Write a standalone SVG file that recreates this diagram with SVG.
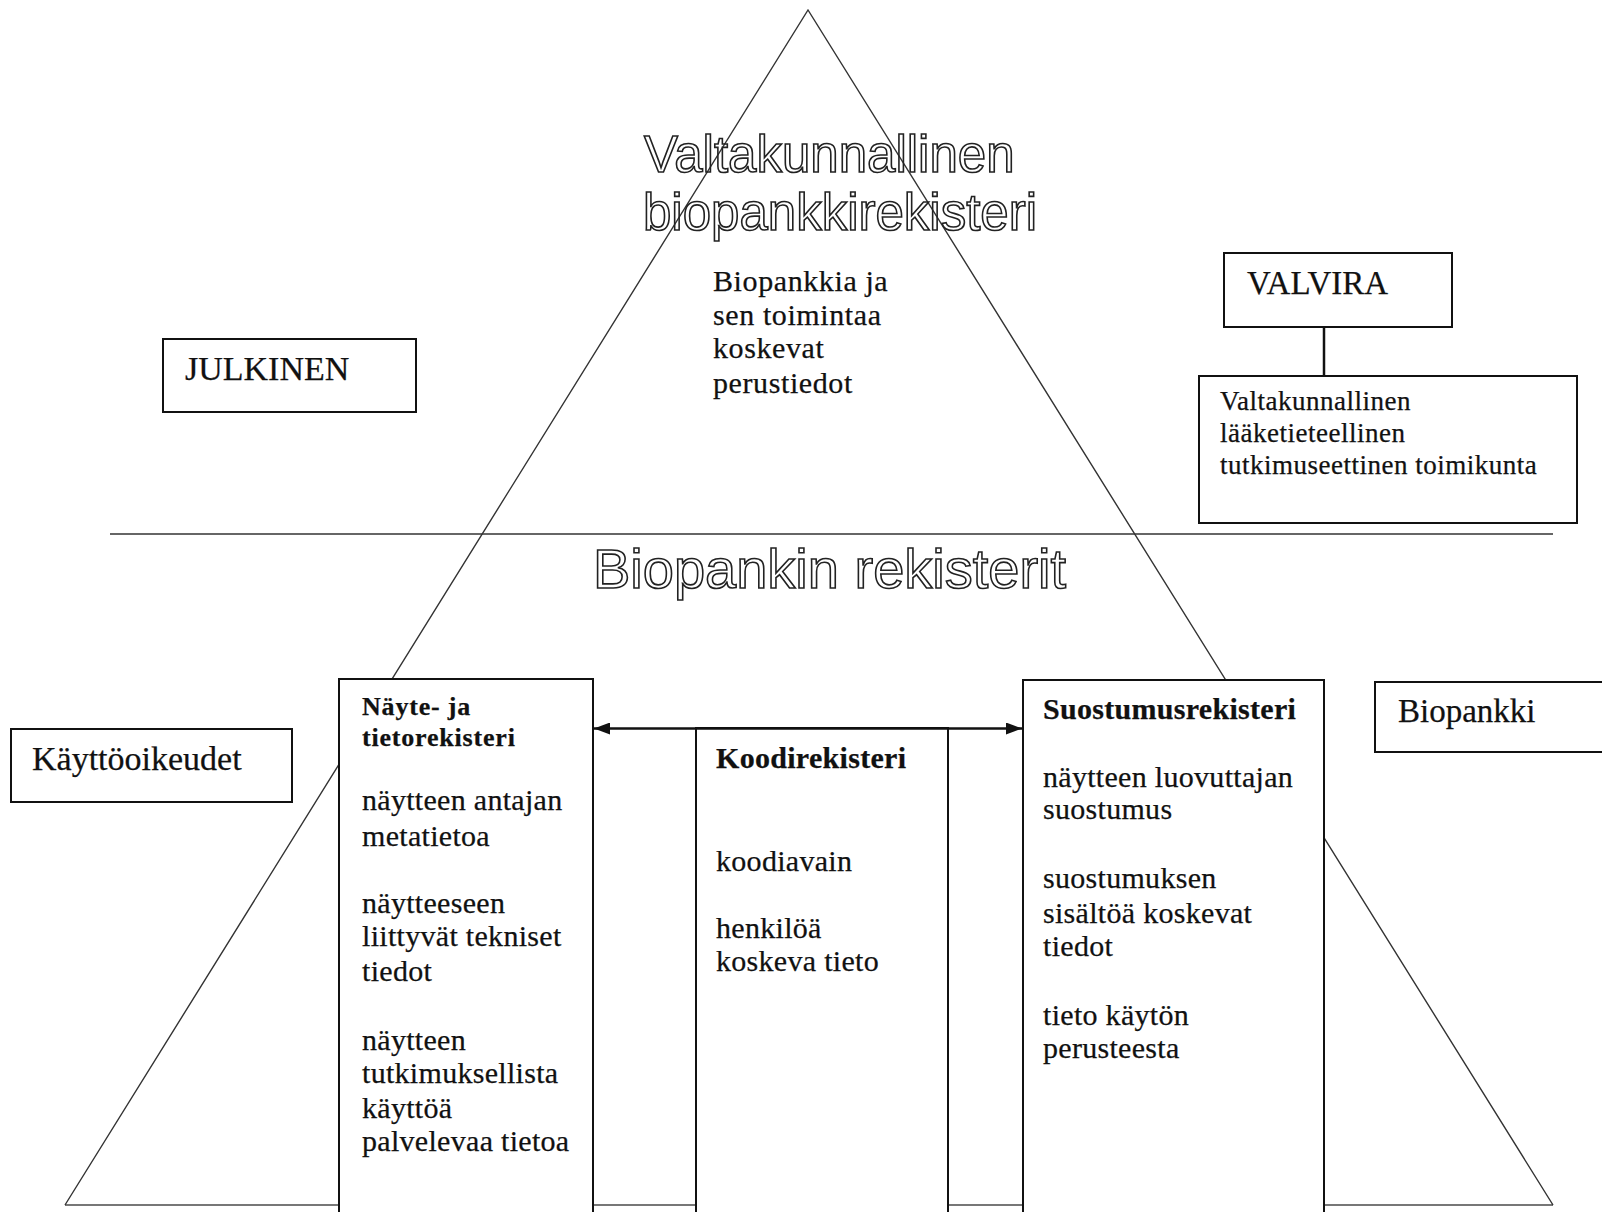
<svg xmlns="http://www.w3.org/2000/svg" width="1602" height="1212" viewBox="0 0 1602 1212">
<style>
.bg{fill:#fff}
.tri{fill:none;stroke:#333;stroke-width:1.4}
.base{fill:none;stroke:#777;stroke-width:2}
.box{fill:#fff;stroke:#111;stroke-width:2}
.hollow{font-family:"Liberation Sans",Arial,sans-serif;fill:none;stroke:#222;stroke-width:1.6}
.serif{font-family:"Liberation Serif","Times New Roman",serif;fill:#111;stroke:#111;stroke-width:0.25}
.lbl{font-size:34px}
.body{font-size:30px;letter-spacing:0.3px}
.head{font-size:30px;font-weight:bold;letter-spacing:0.3px}
.conn{fill:none;stroke:#111;stroke-width:2.5}
</style>
<defs>
<marker id="ah" viewBox="0 0 16 12" refX="16" refY="6" markerWidth="16" markerHeight="12" markerUnits="userSpaceOnUse" orient="auto-start-reverse">
<path d="M0,0 L16,6 L0,12 z" fill="#111"/>
</marker>
</defs>
<rect class="bg" x="0" y="0" width="1602" height="1212"/>
<g id="pyramid">
<line class="base" x1="65" y1="1205" x2="1553" y2="1205"/>
<polyline class="tri" points="65,1205 808,10 1553,1205"/>
<line class="tri" x1="110" y1="534" x2="1553" y2="534"/>
</g>
<g id="title-national">
<text class="hollow" x="644" y="172" font-size="51">Valtakunnallinen</text>
<text class="hollow" x="643" y="230" font-size="51">biopankkirekisteri</text>
</g>
<g id="title-registers">
<text class="hollow" x="593" y="588" font-size="56">Biopankin rekisterit</text>
</g>
<g id="basic-info">
<text class="serif" font-size="30" letter-spacing="0.6"><tspan x="713" y="291">Biopankkia ja</tspan><tspan x="713" y="325">sen toimintaa</tspan><tspan x="713" y="358">koskevat</tspan><tspan x="713" y="393">perustiedot</tspan></text>
</g>
<g id="julkinen">
<rect class="box" x="163" y="339" width="253" height="73"/>
<text class="serif lbl" x="185" y="380">JULKINEN</text>
</g>
<g id="valvira">
<rect class="box" x="1224" y="253" width="228" height="74"/>
<text class="serif" font-size="33" x="1247" y="294">VALVIRA</text>
</g>
<g id="toimikunta">
<rect class="box" x="1199" y="376" width="378" height="147"/>
<text class="serif" font-size="27" letter-spacing="0.5"><tspan x="1220" y="410">Valtakunnallinen</tspan><tspan x="1220" y="442">lääketieteellinen</tspan><tspan x="1220" y="474">tutkimuseettinen toimikunta</tspan></text>
</g>
<g id="kayttooikeudet">
<rect class="box" x="11" y="729" width="281" height="73"/>
<text class="serif lbl" x="32" y="770">Käyttöoikeudet</text>
</g>
<g id="biopankki">
<rect class="box" x="1375" y="682" width="240" height="70"/>
<text class="serif" font-size="33" x="1398" y="722">Biopankki</text>
</g>
<g id="nayte-tietorekisteri">
<rect class="box" x="339" y="679" width="254" height="560"/>
<text class="serif" font-size="26" font-weight="bold" letter-spacing="0.8"><tspan x="362" y="715">Näyte- ja</tspan><tspan x="362" y="746">tietorekisteri</tspan></text>
<text class="serif body"><tspan x="362" y="810">näytteen antajan</tspan><tspan x="362" y="846">metatietoa</tspan><tspan x="362" y="913">näytteeseen</tspan><tspan x="362" y="946">liittyvät tekniset</tspan><tspan x="362" y="981">tiedot</tspan><tspan x="362" y="1050">näytteen</tspan><tspan x="362" y="1083">tutkimuksellista</tspan><tspan x="362" y="1118">käyttöä</tspan><tspan x="362" y="1151">palvelevaa tietoa</tspan></text>
</g>
<g id="koodirekisteri">
<rect class="box" x="696" y="728" width="252" height="511"/>
<text class="serif head" x="716" y="768">Koodirekisteri</text>
<text class="serif body"><tspan x="716" y="871">koodiavain</tspan><tspan x="716" y="938">henkilöä</tspan><tspan x="716" y="971">koskeva tieto</tspan></text>
</g>
<g id="suostumusrekisteri">
<rect class="box" x="1023" y="680" width="301" height="559"/>
<text class="serif head" x="1043" y="719">Suostumusrekisteri</text>
<text class="serif body"><tspan x="1043" y="787">näytteen luovuttajan</tspan><tspan x="1043" y="819">suostumus</tspan><tspan x="1043" y="888">suostumuksen</tspan><tspan x="1043" y="923">sisältöä koskevat</tspan><tspan x="1043" y="956">tiedot</tspan><tspan x="1043" y="1025">tieto käytön</tspan><tspan x="1043" y="1058">perusteesta</tspan></text>
</g>
<g id="connectors">
<line class="conn" x1="594" y1="728.5" x2="1022" y2="728.5" marker-start="url(#ah)" marker-end="url(#ah)"/>
<line class="conn" x1="1324" y1="327" x2="1324" y2="376" stroke-width="2"/>
</g>
</svg>
